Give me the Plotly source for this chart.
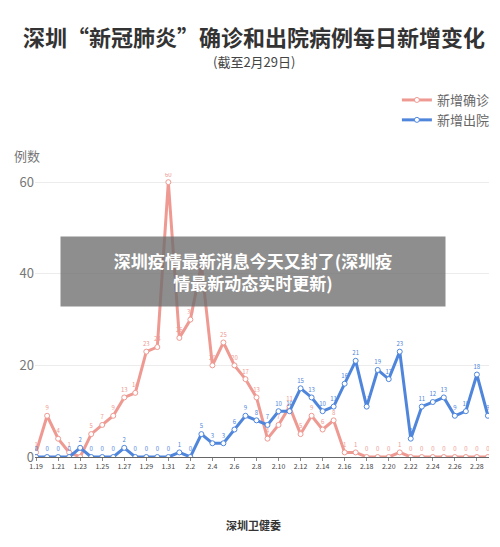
import plotly.graph_objects as go

dates = [f"1.{d}" for d in range(19, 32)] + [f"2.{d}" for d in range(1, 30)]
confirmed = [1,9,4,1,0,5,7,9,13,14,23,24,60,
             26,30,42,20,25,20,17,13,4,7,11,5,9,6,8,1,1,0,0,0,1,0,0,0,0,0,0,0,0]
discharged = [0,0,0,0,2,0,0,0,2,0,0,0,0,
              1,0,5,3,3,6,9,8,7,10,10,15,13,10,11,16,21,11,19,17,23,4,11,12,13,9,10,18,9]
tickvals = dates[::2]

pink = "#ee9a92"
blue = "#4f86dc"
font = "Noto Sans CJK SC"

fig = go.Figure()
fig.add_trace(go.Scatter(x=dates, y=confirmed, name="新增确诊", mode="lines+markers+text",
    line=dict(color=pink, width=3), marker=dict(size=5, color="white", line=dict(color=pink, width=1)),
    text=[str(v) for v in confirmed], textposition="top center", textfont=dict(size=6, color=pink)))
fig.add_trace(go.Scatter(x=dates, y=discharged, name="新增出院", mode="lines+markers+text",
    line=dict(color=blue, width=3), marker=dict(size=5, color="white", line=dict(color=blue, width=1)),
    text=[str(v) for v in discharged], textposition="top center", textfont=dict(size=6, color=blue)))

O = 8
T, B, L, R = 173 - O, 90 + O, 28 - O, 11 + O
fig.update_layout(
    width=500, height=547, paper_bgcolor="white", plot_bgcolor="white",
    margin=dict(l=L, r=R, t=T, b=B),
    font=dict(family=font, color="#555"),
    showlegend=True,
    legend=dict(xanchor="right", yanchor="middle", font=dict(size=13, color="#666"),
                bgcolor="rgba(0,0,0,0)"),
    xaxis=dict(type="category", tickmode="array", tickvals=tickvals, ticktext=tickvals,
               tickfont=dict(size=7, color="#444"), showgrid=False, showline=True,
               linecolor="#666", ticks="outside", ticklen=3, tickcolor="#888", range=[-0.1, 41.1]),
    yaxis=dict(range=[0, 62], tickvals=[0, 20, 40, 60], tickfont=dict(size=13, color="#777"),
               gridcolor="#ececec", zeroline=False, ticks=""),
)
plot_h = 547 - T - B
plot_w = 500 - L - R
def py(p):
    return (547 - B - (p - O)) / plot_h
def px(p):
    return (p - O - L) / plot_w
fig.update_layout(
    legend=dict(y=py(110), x=px(495)),
    annotations=[
        dict(text="<b>深圳“新冠肺炎”确诊和出院病例每日新增变化</b>", x=px(250), y=py(36),
             xref="paper", yref="paper", xanchor="center", yanchor="middle", showarrow=False,
             font=dict(size=22, color="#333")),
        dict(text="(截至2月29日)", x=px(250), y=py(62), xref="paper", yref="paper",
             xanchor="center", yanchor="middle", showarrow=False, font=dict(size=13, color="#444")),
        dict(text="例数", x=px(5), y=py(155), xref="paper", yref="paper", xanchor="left",
             yanchor="middle", showarrow=False, font=dict(size=13, color="#777")),
        dict(text="<b>深圳疫情最新消息今天又封了(深圳疫<br>情最新动态实时更新)</b>", x=px(249), y=py(271),
             xref="paper", yref="paper", xanchor="center", yanchor="middle", showarrow=False,
             font=dict(size=17, color="white"), bgcolor="rgba(110,110,110,0.78)",
             width=382, height=67),
        dict(text="<b>深圳卫健委</b>", x=px(250), y=py(525), xref="paper", yref="paper",
             xanchor="center", yanchor="middle", showarrow=False, font=dict(size=11, color="#333")),
    ],
)
fig.write_html("out.html")
